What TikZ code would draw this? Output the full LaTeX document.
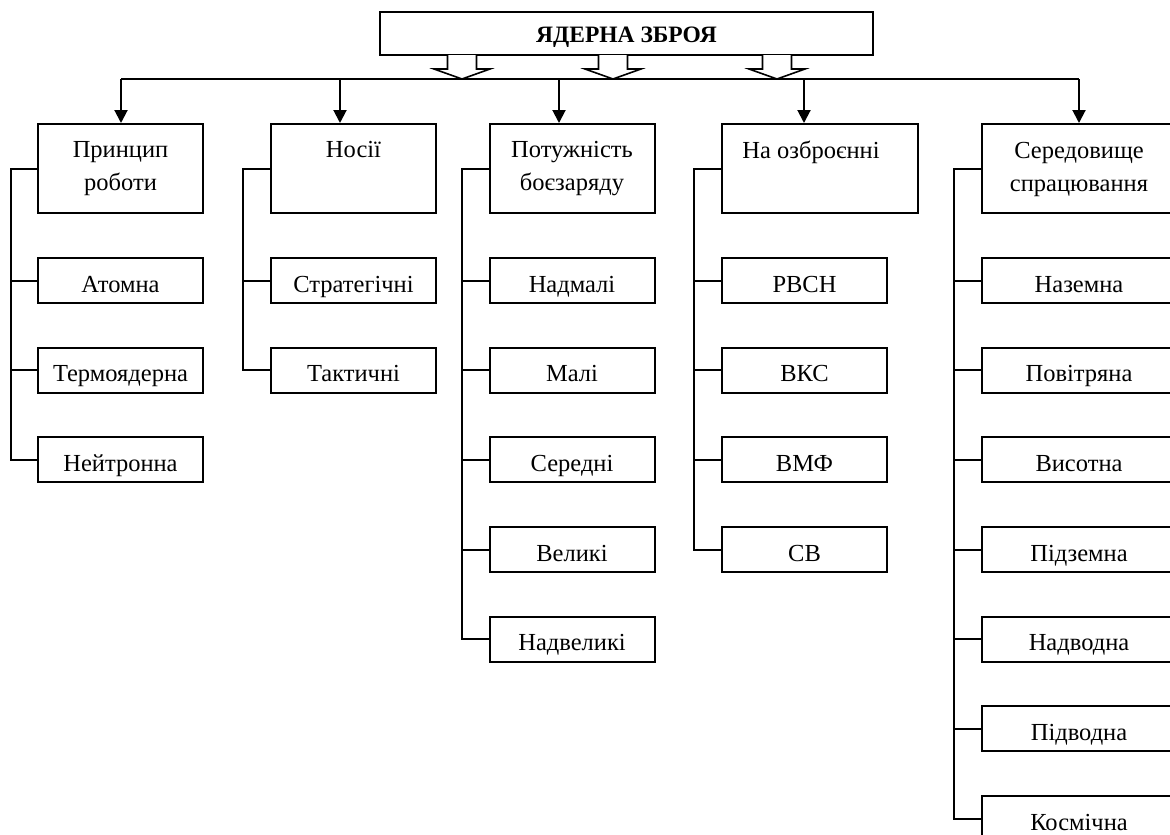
\documentclass[tikz,border=0pt]{standalone}
\usepackage{fontspec}
\setmainfont{Liberation Serif}
\usetikzlibrary{arrows.meta}
\begin{document}
\begin{tikzpicture}[x=1pt,y=-1pt,
  every node/.style={font=\fontsize{24.5}{33}\selectfont},
  line width=2pt,
  subbox/.style={draw,line width=2pt,minimum width=165pt,minimum height=45pt,inner sep=0pt,text height=23pt,text depth=0pt},
  headbox/.style={draw,line width=2pt,minimum width=165pt,minimum height=89pt,inner sep=0pt},
  headtext/.style={anchor=north,align=center,inner sep=0pt},
  lab/.style={inner sep=0pt,text height=23pt,text depth=0pt},
  arr/.style={-{Triangle[length=13pt,width=13pt]}},
  hollow/.style={draw,fill=white,line width=1.6pt,line join=miter}
]
\useasboundingbox (0,0) rectangle (1170,835);
% title
\node[draw,line width=2pt,minimum width=493pt,minimum height=43pt,inner sep=0pt,text height=19.5pt,text depth=1pt,font=\fontsize{23.5}{33}\selectfont\bfseries] (title) at (626.5,33.5) {ЯДЕРНА ЗБРОЯ};
% hollow arrows
\foreach \cx/\nm in {462/ha, 613/hb, 777/hc}{
  \path[hollow] (\cx-14.5,55) -- (\cx-14.5,69) -- (\cx-28,69) -- (\cx,79) -- (\cx+28,69) -- (\cx+14.5,69) -- (\cx+14.5,55);
}
% main line coordinates
\coordinate (a1) at (121,79);
\coordinate (a2) at (340,79);
\coordinate (a3) at (559,79);
\coordinate (a4) at (804,79);
\coordinate (a5) at (1079,79);
\draw (a1) -- (a5);
% headers
\node[headbox] (h1) at (120.5,168.5) {};
\node[headbox] (h2) at (353.5,168.5) {};
\node[headbox] (h3) at (572,168.5) {};
\node[headbox,minimum width=196pt] (h4) at (820,168.5) {};
\node[headbox,minimum width=198pt] (h5) at (1081,168.5) {};
\node[headtext] (t1) at ([yshift=-17pt]h1.north) {Принцип\\роботи};
\node[headtext] (t2) at ([yshift=-17pt]h2.north) {Носії};
\node[headtext] (t3) at ([yshift=-17pt]h3.north) {Потужність\\боєзаряду};
\node[headtext] (t4) at (811,140) {На озброєнні};
\node[headtext] (t5) at (1079,141) {Середовище\\спрацювання};
% vertical arrows
\draw[arr] (a1) -- (a1 |- h1.north);
\draw[arr] (a2) -- (a2 |- h2.north);
\draw[arr] (a3) -- (a3 |- h3.north);
\draw[arr] (a4) -- (a4 |- h4.north);
\draw[arr] (a5) -- (a5 |- h5.north);
% column 1
\node[subbox] (s11) at (120.5,280.5) {Атомна};
\node[subbox] (s12) at (120.5,370.2) {Термоядерна};
\node[subbox] (s13) at (120.5,459.8) {Нейтронна};
% column 2
\node[subbox] (s21) at (353.5,280.5) {Стратегічні};
\node[subbox] (s22) at (353.5,370.2) {Тактичні};
% column 3
\node[subbox] (s31) at (572,280.5) {Надмалі};
\node[subbox] (s32) at (572,370.2) {Малі};
\node[subbox] (s33) at (572,459.8) {Середні};
\node[subbox] (s34) at (572,549.5) {Великі};
\node[subbox] (s35) at (572,639.2) {Надвеликі};
% column 4
\node[subbox] (s41) at (804.5,280.5) {РВСН};
\node[subbox] (s42) at (804.5,370.2) {ВКС};
\node[subbox] (s43) at (804.5,459.8) {ВМФ};
\node[subbox] (s44) at (804.5,549.5) {СВ};
% column 5
\node[subbox,minimum width=198pt] (s51) at (1081,280.5) {};
\node[subbox,minimum width=198pt] (s52) at (1081,370.2) {};
\node[subbox,minimum width=198pt] (s53) at (1081,459.8) {};
\node[subbox,minimum width=198pt] (s54) at (1081,549.5) {};
\node[subbox,minimum width=198pt] (s55) at (1081,639.2) {};
\node[subbox,minimum width=198pt] (s56) at (1081,728.8) {};
\node[subbox,minimum width=198pt] (s57) at (1081,818.5) {};
\node[lab] (l51) at (1079,280.5) {Наземна};
\node[lab] (l52) at (1079,370.2) {Повітряна};
\node[lab] (l53) at (1079,459.8) {Висотна};
\node[lab] (l54) at (1079,549.5) {Підземна};
\node[lab] (l55) at (1079,639.2) {Надводна};
\node[lab] (l56) at (1079,728.8) {Підводна};
\node[lab] (l57) at (1079,818.5) {Космічна};
% branches
\foreach \s in {s11,s12,s13}{\draw (h1.west) -- ++(-26,0) |- (\s.west);}
\foreach \s in {s21,s22}{\draw (h2.west) -- ++(-27,0) |- (\s.west);}
\foreach \s in {s31,s32,s33,s34,s35}{\draw (h3.west) -- ++(-27,0) |- (\s.west);}
\foreach \s in {s41,s42,s43,s44}{\draw (h4.west) -- ++(-27,0) |- (\s.west);}
\foreach \s in {s51,s52,s53,s54,s55,s56,s57}{\draw (h5.west) -- ++(-27,0) |- (\s.west);}
\end{tikzpicture}
\end{document}
